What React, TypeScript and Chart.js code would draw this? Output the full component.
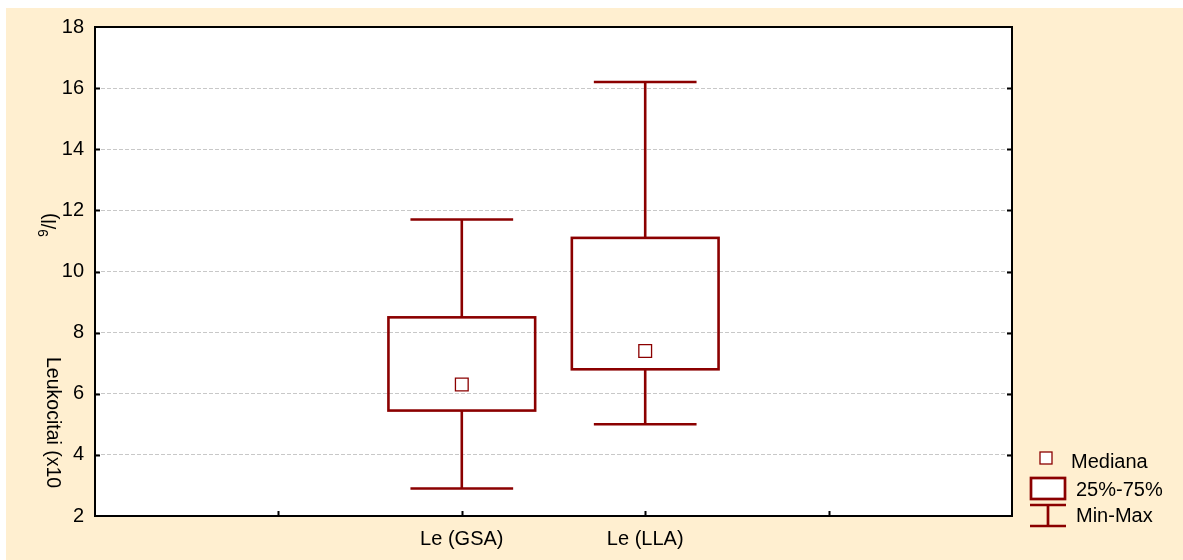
import React, { useEffect, useRef } from "react";
import { Chart, registerables } from "chart.js";

Chart.register(...registerables);

const categories = ["Le (GSA)", "Le (LLA)"];
const categoryX = [2, 3];
const minValues = [2.9, 5.0];
const q1Values = [5.45, 6.8];
const medianValues = [6.3, 7.4];
const q3Values = [8.5, 11.1];
const maxValues = [11.7, 16.2];
const legendLabels = ["Mediana", "25%-75%", "Min-Max"];
const yTitleMain = "Leukocitai (x10";
const yTitleSup = "9";
const yTitleTail = "/l)";

const RED = "#8B0000";
const FONT = "'Liberation Sans', Arial, sans-serif";

const boxPlugin = {
  id: "boxPlugin",
  beforeDraw(chart: any) {
    const { ctx, chartArea: a } = chart;
    ctx.save();
    ctx.fillStyle = "#ffffff";
    ctx.fillRect(a.left, a.top, a.right - a.left, a.bottom - a.top);
    ctx.restore();
  },
  beforeDatasetsDraw(chart: any) {
    const { ctx } = chart;
    const xs = chart.scales.x;
    const ys = chart.scales.y;
    ctx.save();
    ctx.strokeStyle = RED;
    ctx.lineWidth = 2.6;
    categories.forEach((_, i) => {
      const cx = xs.getPixelForValue(categoryX[i]);
      const bl = xs.getPixelForValue(categoryX[i] - 0.4);
      const br = xs.getPixelForValue(categoryX[i] + 0.4);
      const wl = xs.getPixelForValue(categoryX[i] - 0.28);
      const wr = xs.getPixelForValue(categoryX[i] + 0.28);
      const yMin = ys.getPixelForValue(minValues[i]);
      const yQ1 = ys.getPixelForValue(q1Values[i]);
      const yQ3 = ys.getPixelForValue(q3Values[i]);
      const yMax = ys.getPixelForValue(maxValues[i]);
      ctx.beginPath();
      ctx.moveTo(cx, yQ3);
      ctx.lineTo(cx, yMax);
      ctx.moveTo(wl, yMax);
      ctx.lineTo(wr, yMax);
      ctx.moveTo(cx, yQ1);
      ctx.lineTo(cx, yMin);
      ctx.moveTo(wl, yMin);
      ctx.lineTo(wr, yMin);
      ctx.stroke();
      ctx.strokeRect(bl, yQ3, br - bl, yQ1 - yQ3);
    });
    ctx.restore();
  },
  afterDraw(chart: any) {
    const { ctx, chartArea: a } = chart;
    const xs = chart.scales.x;
    const ys = chart.scales.y;
    ctx.save();
    // frame
    ctx.strokeStyle = "#000";
    ctx.lineWidth = 2;
    ctx.strokeRect(a.left, a.top, a.right - a.left, a.bottom - a.top);
    // inner ticks
    ctx.beginPath();
    ys.ticks.forEach((t: any) => {
      if (t.value <= ys.min || t.value >= ys.max) return;
      const y = Math.round(ys.getPixelForValue(t.value)) + 0.5;
      ctx.moveTo(a.left, y);
      ctx.lineTo(a.left + 5, y);
      ctx.moveTo(a.right, y);
      ctx.lineTo(a.right - 5, y);
    });
    xs.ticks.forEach((t: any) => {
      if (t.value <= xs.min || t.value >= xs.max) return;
      const x = Math.round(xs.getPixelForValue(t.value)) + 0.5;
      ctx.moveTo(x, a.bottom);
      ctx.lineTo(x, a.bottom - 5);
    });
    ctx.lineWidth = 2;
    ctx.stroke();

    // y title
    ctx.fillStyle = "#000";
    ctx.font = `19.5px ${FONT}`;
    ctx.save();
    ctx.translate(41, 349);
    ctx.rotate(Math.PI / 2);
    ctx.textAlign = "left";
    ctx.textBaseline = "alphabetic";
    ctx.fillText(yTitleMain, 0, 0);
    ctx.restore();
    ctx.save();
    ctx.translate(50, 229);
    ctx.rotate(-Math.PI / 2);
    ctx.textAlign = "left";
    ctx.textBaseline = "alphabetic";
    ctx.font = `14px ${FONT}`;
    ctx.fillText(yTitleSup, 0, -8);
    const sw = ctx.measureText(yTitleSup).width;
    ctx.font = `19.5px ${FONT}`;
    ctx.fillText(yTitleTail, sw, 0);
    ctx.restore();

    // legend
    const R = a.right;
    const B = a.bottom;
    ctx.fillStyle = "#fff";
    ctx.strokeStyle = RED;
    ctx.lineWidth = 1.3;
    ctx.fillRect(R + 28, B - 64, 12, 12);
    ctx.strokeRect(R + 28, B - 64, 12, 12);
    ctx.lineWidth = 2.7;
    ctx.fillRect(R + 19, B - 38, 34, 21);
    ctx.strokeRect(R + 19, B - 38, 34, 21);
    ctx.beginPath();
    ctx.moveTo(R + 18, B - 11);
    ctx.lineTo(R + 54, B - 11);
    ctx.moveTo(R + 36, B - 11);
    ctx.lineTo(R + 36, B + 10);
    ctx.moveTo(R + 18, B + 10);
    ctx.lineTo(R + 54, B + 10);
    ctx.stroke();
    ctx.fillStyle = "#000";
    ctx.font = `20px ${FONT}`;
    ctx.textAlign = "left";
    ctx.textBaseline = "alphabetic";
    ctx.fillText(legendLabels[0], R + 59, B - 48);
    ctx.fillText(legendLabels[1], R + 64, B - 20);
    ctx.fillText(legendLabels[2], R + 64, B + 6);
    ctx.restore();
  },
};

export default function App() {
  const ref = useRef<HTMLCanvasElement | null>(null);
  useEffect(() => {
    if (!ref.current) return;
    const chart = new Chart(ref.current, {
      type: "scatter",
      data: {
        datasets: [
          {
            label: legendLabels[0],
            data: categories.map((_, i) => ({ x: categoryX[i], y: medianValues[i] })),
            pointStyle: "rect",
            pointRadius: 9,
            pointBorderWidth: 1.3,
            pointBorderColor: RED,
            pointBackgroundColor: "#ffffff",
            pointHoverRadius: 9,
          },
        ],
      },
      options: {
        animation: false,
        responsive: false,
        maintainAspectRatio: false,
        events: [],
        layout: { padding: { left: 0, top: 19, right: 171, bottom: 0 } },
        plugins: { legend: { display: false }, tooltip: { enabled: false } },
        scales: {
          x: {
            type: "linear",
            min: 0,
            max: 5,
            afterFit: (s: any) => {
              s.height = 44;
              s.paddingLeft = 0;
              s.paddingRight = 0;
            },
            ticks: {
              stepSize: 1,
              autoSkip: false,
              maxRotation: 0,
              padding: 11,
              color: "#000",
              font: { family: FONT, size: 20 },
              callback: (v: any) => {
                const idx = categoryX.indexOf(Number(v));
                return idx >= 0 ? categories[idx] : "";
              },
            },
            grid: { display: false, drawTicks: false },
            border: { display: false },
          },
          y: {
            type: "linear",
            min: 2,
            max: 18,
            afterFit: (s: any) => {
              s.width = 89;
              s.paddingTop = 0;
              s.paddingBottom = 0;
            },
            ticks: {
              stepSize: 2,
              padding: 11,
              color: "#000",
              font: { family: FONT, size: 20 },
            },
            grid: {
              drawTicks: false,
              color: (c: any) =>
                c.tick && (c.tick.value === 2 || c.tick.value === 18) ? "rgba(0,0,0,0)" : "#c8c8c8",
              lineWidth: 1,
            },
            border: { display: false, dash: [4, 2] },
          },
        },
      },
      plugins: [boxPlugin],
    } as any);
    return () => chart.destroy();
  }, []);
  return (
    <div
      style={{
        position: "absolute",
        left: 6,
        top: 8,
        width: 1177,
        height: 552,
        background: "#FFEFD0",
      }}
    >
      <canvas ref={ref} width={1177} height={552} style={{ display: "block" }} />
    </div>
  );
}
